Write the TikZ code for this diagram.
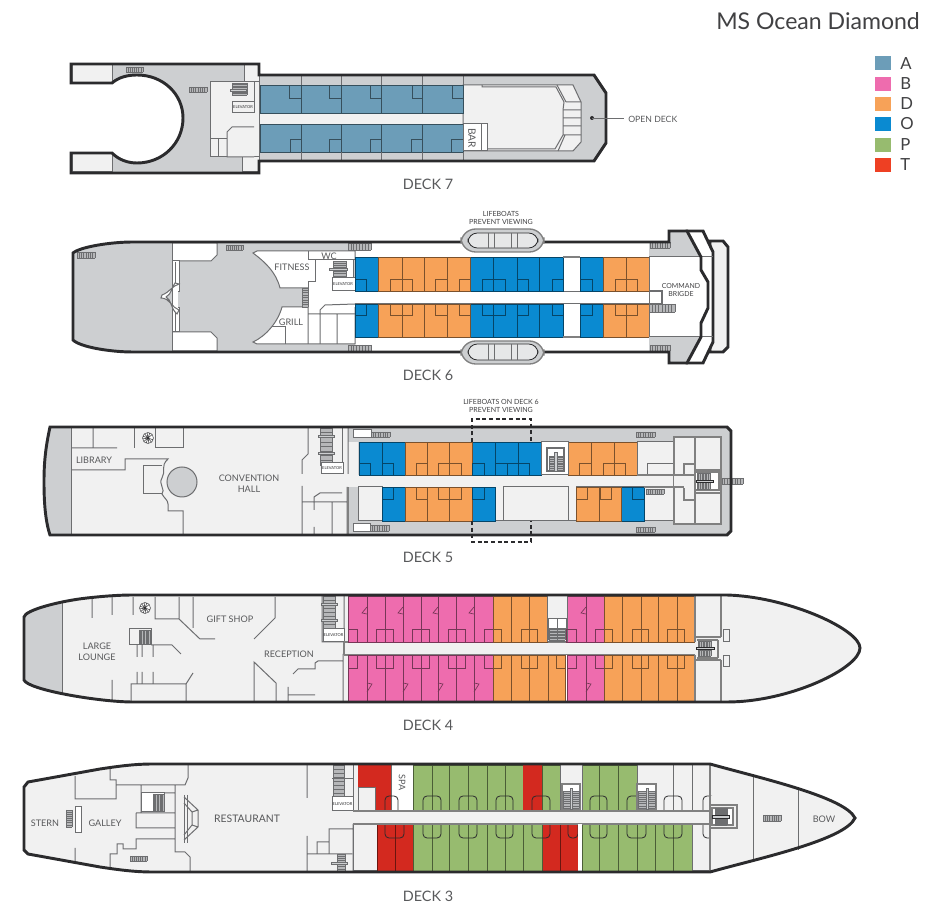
\documentclass[tikz,border=0pt]{standalone}
\usepackage{fontspec}
\setmainfont{Lato}
\definecolor{catA}{HTML}{6C9DB8}
\definecolor{catB}{HTML}{EE6CAE}
\definecolor{catD}{HTML}{F7A258}
\definecolor{catO}{HTML}{0A8AD1}
\definecolor{catP}{HTML}{97BB6F}
\definecolor{catT}{HTML}{D3291F}
\definecolor{legT}{HTML}{EE4023}
\definecolor{deckgray}{HTML}{CDCFD1}
\definecolor{roomlight}{HTML}{F1F1F1}
\definecolor{wall}{HTML}{6D6E70}
\definecolor{inktext}{HTML}{58595B}
\definecolor{darktext}{HTML}{414143}
\definecolor{hullblack}{HTML}{2B2B2D}
\tikzset{
  hull/.style={draw=hullblack,line width=2.2pt,line join=miter},
  wallline/.style={draw=wall,line width=.75pt},
  graywall/.style={draw=gray,line width=.9pt},
  lab/.style={text=inktext,font=\fontsize{6.8pt}{8pt}\selectfont,align=center,inner sep=0pt},
  decklab/.style={text=inktext,font=\fontsize{10.8pt}{12pt}\selectfont,inner sep=0pt},
  tinylab/.style={text=hullblack,font=\fontsize{3pt}{3.5pt}\selectfont,inner sep=0pt},
  smalllab/.style={text=darktext,font=\fontsize{5.3pt}{6pt}\selectfont,align=center,inner sep=0pt},
  leglab/.style={text=darktext,font=\fontsize{12.5pt}{14pt}\selectfont,anchor=west,inner sep=0pt},
}
\newcommand\cabs[4]{\foreach \a/\b in {#4} \filldraw[fill=#1,draw=#1!50!black,line width=.7pt] (\a,#2) rectangle (\b,#3);}
\newcommand\baths[4]{\foreach \a/\b in {#4} \draw[draw=#1!50!black,line width=.7pt] (\a,#2) rectangle (\b,#3);}
\newcommand\rbaths[5]{\foreach \a/\b in {#5} \draw[draw=hullblack,line width=.6pt,rounded corners=#1] (\a,#3) rectangle (\b,#4);}
\newcommand\hst[4]{\fill[deckgray!70!gray] (#1,#2) rectangle (#3,#4);
  \foreach \t in {0,0.125,...,1.01} \draw[draw=wall,line width=.5pt] ({#1+\t*(#3-#1)},#2) -- ({#1+\t*(#3-#1)},#4);
  \draw[draw=wall,line width=.5pt] (#1,#2) -- (#3,#2) (#1,#4) -- (#3,#4);}
\newcommand\vst[4]{\fill[deckgray!70!gray] (#1,#2) rectangle (#3,#4);
  \foreach \t in {0,0.125,...,1.01} \draw[draw=wall,line width=.5pt] (#1,{#2+\t*(#4-#2)}) -- (#3,{#2+\t*(#4-#2)});
  \draw[draw=wall,line width=.5pt] (#1,#2) -- (#1,#4) (#3,#2) -- (#3,#4);}
\newcommand\stbar[3]{\filldraw[fill=deckgray,draw=wall,line width=.5pt] (#1,#3) rectangle (#2,#3+2);}
\newcommand\fan[2]{\filldraw[fill=white,draw=wall,line width=.5pt] (#1,#2) circle (5.5);
  \foreach \t in {20,50,...,340} \draw[draw=hullblack,line width=.4pt] (#1,#2) -- ++(\t:5.5);}
\begin{document}
\begin{tikzpicture}[x=0.75pt,y=-0.75pt]
\useasboundingbox (0,0) rectangle (940,912);
% ===== TITLE + LEGEND =====
\node[anchor=west,text=darktext,font=\fontsize{17.3pt}{20pt}\selectfont,inner sep=0pt] (title) at (716,21) {MS Ocean Diamond};
\foreach \n/\c/\t/\y in {a/catA/A/63.5,b/catB/B/84,d/catD/D/104,o/catO/O/124,p/catP/P/145,t/legT/T/165}{
  \fill[\c] (875,\y-7) rectangle (891,\y+7);
  \node[leglab] (leg\n) at (900,\y) {\t};
}
% ===== DECK 7 =====
\path[fill=deckgray] (71,64)--(259,64)--(259,75)--(594,75)--(606,93)--(606,143)--(594,161)--(259,161)--(259,173)--(71,173)--(71,153)--(112,153)
  .. controls (119,160) and (128,163) .. (137,163) .. controls (163,163) and (183,143) .. (183,118) .. controls (183,94) and (163,75) .. (137,75) .. controls (128,75) and (119,77) .. (112,83) -- (71,83) -- cycle;
\filldraw[fill=roomlight,wallline] (72,65) rectangle (112,83);
\filldraw[fill=roomlight,wallline] (72,154) rectangle (112,172);
\filldraw[fill=roomlight,wallline] (244,65) rectangle (259,82);
\filldraw[fill=roomlight,wallline] (242,157) rectangle (259,172);
\filldraw[fill=roomlight,wallline] (210,82) rectangle (259,157);
\fill[roomlight] (259,113) rectangle (463,124);
\draw[wallline] (259,75) -- (259,161);
\filldraw[fill=roomlight,wallline] (463,85)--(482,85)--(573,85)--(581,102)--(581,142)--(573,151)--(463,151)--cycle;
\draw[wallline] (482,85)--(482,87)--(556,87)--(564,102)--(563,110)--(563,135)--(555,149)--(487,149);
\draw[wallline] (566,102)--(581,102) (563,110)--(581,110) (563,118)--(581,118) (563,126)--(581,126) (563,135)--(581,135) (557,85)--(566,102) (565,135)--(558,151);
\cabs{catA}{85}{113}{260/301,301/341,341/381,381/422,422/463}
\cabs{catA}{124}{152}{260/301,301/341,341/381,381/422,422/463}
\baths{catA}{85}{98}{289/301,329/341,370/381,412/422,452/463}
\baths{catA}{139}{152}{290/301,329/341,370/381,411/422,451/463}
\foreach \x in {301,341,381,422,463} \draw[wallline] (\x,75)--(\x,85) (\x,152)--(\x,161);
\filldraw[fill=white,wallline] (463,124) rectangle (487,151);
\draw[wallline] (481,124)--(481,151);
\node[lab,rotate=-90,font=\fontsize{7.6pt}{8pt}\selectfont] (bar7) at (472,138) {BAR};
\draw[wallline] (232,102)--(232,113)--(254,113) (254,82)--(254,113) (232,102)--(254,102);
\vst{232}{83}{247}{95}\stbar{230}{246}{89}
\node[tinylab] (elev7) at (243,107.5) {ELEVATOR};
\filldraw[fill=roomlight,wallline] (254,127)--(232,127)--(227,132)--(227,157)--(254,157);
\draw[wallline] (210,139)--(227,139) (218,139)--(218,157);
\hst{126}{67}{143}{72}
\hst{189}{87}{207}{92}
\draw[hull] (71,64)--(259,64)--(259,75)--(594,75)--(606,93)--(606,143)--(594,161)--(259,161)--(259,173)--(71,173)--(71,153)--(112,153)
  .. controls (119,160) and (128,163) .. (137,163) .. controls (163,163) and (183,143) .. (183,118) .. controls (183,94) and (163,75) .. (137,75) .. controls (128,75) and (119,77) .. (112,83) -- (71,83) -- cycle;
\coordinate (od7) at (592,118);
\node[lab,anchor=west,font=\fontsize{6.5pt}{7pt}\selectfont] (opendeck) at (628,119.5) {OPEN DECK};
\coordinate (od7end) at (624,118);
\fill[hullblack] (od7) circle (2);
\draw[draw=wall,line width=.7pt] (od7) -- (od7end);
\node[decklab] (deck7) at (428,184) {DECK 7};
% ===== DECK 6 =====
\filldraw[fill=roomlight,hull] (710,241)--(723,241)--(728,247)--(728,347)--(723,352)--(710,352)--cycle;
\filldraw[fill=white,hull] (687,231)--(703,231)--(713,252)--(713,320)--(713,342)--(703,363)--(687,363)--cycle;
\path[fill=deckgray] (73,253) .. controls (80,247) and (110,242) .. (133,242) -- (669,242)--(669,231)--(687,231)--(701,257)--(701,270)--(708,282)--(708,308)--(701,323)--(701,337)--(687,363)--(669,363)--(669,352)--(133,352) .. controls (110,352) and (80,347) .. (73,340) -- cycle;
\fill[white] (649,257) rectangle (701,337);
\fill[white] (701,270)--(708,282)--(708,308)--(701,323)--cycle;
\fill[white] (355,243) rectangle (649,257);
\fill[white] (355,337) rectangle (649,351);
% interior white rooms
\filldraw[fill=white,wallline] (172,243)--(217,243)--(217,255)--(211,261)--(172,261);
\filldraw[fill=white,wallline] (172,351)--(217,351)--(217,338)--(211,332)--(172,332);
\draw[wallline] (172,243)--(172,351);
\filldraw[fill=white,wallline] (355,251)--(257,251)--(253,253) .. controls (265,262) and (276,272) .. (280,288) -- (302,288) -- (308,288) -- (308,307) -- (282,307) .. controls (278,322) and (266,336) .. (253,342)--(257,344)--(355,344)--cycle;
\fill[white] (302,288) rectangle (356,307);
\draw[wallline] (308,251)--(308,260)--(315,260)--(315,282)--(308,282)--(308,288);
\draw[wallline] (308,260)--(355,260);
\draw[wallline] (308,307)--(308,344) (308,314)--(355,314) (320,314)--(320,310)--(325,305)--(355,304) (320,314)--(320,344) (337,314)--(337,344);
\draw[wallline] (272,327)--(285,327)--(285,344);
\vst{333}{261}{346}{278}\stbar{329}{347}{268}
\draw[wallline] (353,260)--(353,278);
\filldraw[fill=white,wallline] (332,278) rectangle (355,291);
\node[tinylab] (elev6) at (343,284.5) {ELEVATOR};
\vst{302}{288}{308}{307}
\filldraw[fill=white,wallline] (172,261) rectangle (179,292);
\filldraw[fill=white,wallline] (172,308) rectangle (179,332);
\fill[white] (173,262) rectangle (178,331);
\draw[wallline] (175.5,262)--(175.5,283) (175.5,313)--(175.5,331);
\filldraw[fill=white,wallline] (179,284) .. controls (172,286) and (170,292) .. (162,295) -- (161,298) .. controls (170,298) and (172,308) .. (179,310) -- (177,314) .. controls (170,308) and (172,300) .. (166,297) .. controls (172,294) and (172,286) .. (175,283) -- cycle;
\fill[white] (355,291) rectangle (662,304);
\draw[draw=wall,line width=.9pt] (355,291)--(662,291)--(662,304)--(355,304);
% cabins
\foreach \ya/\yb in {257/291,304/337}{
  \cabs{catO}{\ya}{\yb}{355/378,470/493,493/517,517/539,539/563,580/603}
  \cabs{catD}{\ya}{\yb}{378/402,402/424,424/447,447/470,603/626,626/649}
  \fill[white] (563.5,\ya) rectangle (579.5,\yb);
}
\baths{catO}{279}{291}{355/366,482/493,493/505,517/528,552/563,580/592}
\baths{catD}{279}{291}{390/402,402/412,435/447,459/470,615/626,626/637}
\baths{catO}{304}{315}{355/366,482/493,493/505,517/528,552/563,580/592}
\baths{catD}{304}{315}{390/402,402/412,435/447,459/470,615/626,626/637}
\draw[draw=gray,line width=.8pt] (563,257)--(580,257) (563,337)--(580,337);
% right end
\fill[deckgray] (649,257)--(649,248)--(669,248)--(669,232)--(686,232)--(701,257)--cycle;
\fill[deckgray] (649,337)--(649,345)--(669,345)--(669,362)--(686,362)--(701,337)--cycle;
\draw[wallline] (649,257)--(701,257) (649,337)--(701,337) (649,257)--(649,337);
\draw[wallline] (702,257)--(713,257) (702,337)--(713,337);
\hst{650}{242.5}{670}{248}
\hst{650}{345}{670}{351}
\hst{649}{304}{675}{312}
% main stairs
\hst{77}{252}{95}{258}
\hst{226}{245}{243}{250}
\hst{348}{243}{371}{250}
\hst{348}{345}{371}{351}
\draw[hull] (73,253) .. controls (80,247) and (110,242) .. (133,242) -- (669,242)--(669,231)--(687,231)--(701,257)--(701,270)--(708,282)--(708,308)--(701,323)--(701,337)--(687,363)--(669,363)--(669,352)--(133,352) .. controls (110,352) and (80,347) .. (73,340) -- cycle;
\foreach \ya/\yb/\yc/\yd in {229/252/233/248,341/364/344/360}{
  \filldraw[fill=deckgray,draw=gray,line width=1pt,rounded corners=11] (461,\ya) rectangle (544,\yb);
  \filldraw[fill=deckgray!50!white,draw=hullblack,line width=.6pt,rounded corners=7] (468,\yc) rectangle (538,\yd);
  \foreach \x in {488,494,511,517} \draw[wallline] (\x,\yc)--(\x,\yd);
}
\node[smalllab] (lb6) at (501,218) {LIFEBOATS\\PREVENT VIEWING};
\node[lab] (fit) at (292,267) {FITNESS};
\node[lab] (wc) at (329,256) {WC};
\node[lab] (grill) at (291,322) {GRILL};
\node[smalllab,font=\fontsize{5.2pt}{6.6pt}\selectfont] (cmd) at (681,290) {COMMAND\\BRIGDE};
\node[decklab] (deck6) at (428,375) {DECK 6};
% ===== DECK 5 =====
\path[fill=roomlight] (50,427) -- (727,427) -- (731,431) -- (731,531) -- (727,535) -- (50,535) .. controls (45,520) and (44,500) .. (44,482) .. controls (44,465) and (45,450) .. (50,427) -- cycle;
\path[fill=deckgray] (50,427) -- (71,427) -- (71,535) -- (50,535) .. controls (45,520) and (44,500) .. (44,482) .. controls (44,465) and (45,450) .. (50,427) -- cycle;
\fill[deckgray] (348,427) -- (727,427) -- (731,431) -- (731,531) -- (727,535) -- (348,535) -- cycle;
\fill[white] (674,437) rectangle (721,524);
\fill[roomlight] (348,475) rectangle (697,487);
\fill[roomlight] (348,442) rectangle (358,475);
\draw[wallline] (71,427)--(71,535);
\draw[wallline] (71,448)--(117,448) (93,427)--(93,448) (71,470)--(125,470)--(125,459)--(168,459)
  .. controls (160,466) and (166,472) .. (162,478) .. controls (158,484) and (166,490) .. (162,494) .. controls (164,498) and (168,500) .. (168,504) -- (168,511)--(183,511)--(183,534);
\draw[wallline] (162,466)--(143,466)--(143,494)--(162,494);
\filldraw[fill=deckgray,wallline] (182,482) circle (15);
\draw[wallline] (134,427)--(134,448);
\filldraw[fill=roomlight,wallline] (155,428)--(155,448)--(183,448)--(183,428);
\draw[wallline] (308,427)--(308,454)--(302,460)--(302,474) (302,486)--(302,534) (302,502)--(347,502) (332,502)--(332,534)
 (314,510)--(314,497)--(320,493)--(342,493) (314,527)--(314,534) (347,487)--(347,534) (348,427)--(348,474);
\vst{320}{428}{332}{465}\stbar{318}{334}{435}\stbar{318}{334}{452}
\draw[wallline] (342,428)--(342,465);
\filldraw[fill=white,wallline] (321,463) rectangle (343,474);
\node[tinylab] (elev5) at (332,468.5) {ELEVATOR};
% cabins
\cabs{catO}{442}{475}{359/382,382/405,472/495,495/518,518/541}
\cabs{catD}{442}{475}{405/427,427/449,449/472,568/591,591/614,614/637}
\filldraw[fill=white,wallline] (541,442) rectangle (568,475);
\filldraw[fill=roomlight,wallline] (637,442) rectangle (674,475);
\draw[wallline] (647,475)--(647,464)--(674,464);
\filldraw[fill=roomlight,wallline] (358,487) rectangle (382,521);
\fill[roomlight] (495,487) rectangle (576,521);
\draw[wallline] (495,521)--(576,521);
\filldraw[fill=roomlight,wallline] (503,487) rectangle (568,521);
\filldraw[fill=roomlight,wallline] (576,487) -- (674,487) -- (674,521) -- (576,521) -- cycle;
\cabs{catO}{487}{521}{382/405,472/495,621/644}
\cabs{catD}{487}{521}{405/427,427/449,449/472,576/599,599/621}
\baths{catO}{463}{475}{359/370,382/393,472/484,495/507,507/518,518/529}
\baths{catD}{463}{475}{416/427,438/449,449/461,579/591,603/614,614/625}
\baths{catO}{487}{499}{382/393,472/484,632/644}
\baths{catD}{487}{499}{416/427,438/449,449/461,576/587,600/611}
\filldraw[fill=white,draw=wall,line width=.9pt] (547,448) rectangle (564,471);
\vst{549}{456}{555}{470}\vst{557}{456}{563}{470}
\filldraw[fill=deckgray,wallline] (554,453) rectangle (557,472);
\hst{646}{489}{664}{494}
% right block
\filldraw[fill=roomlight,draw=gray,line width=.9pt] (674,437) rectangle (721,524);
\draw[draw=gray,line width=.9pt] (695,437)--(695,524);
\filldraw[fill=roomlight,draw=gray,line width=.9pt] (695,437) rectangle (721,470);
\filldraw[fill=roomlight,draw=gray,line width=.9pt] (695,493) rectangle (721,524);
\fill[roomlight] (674,475) rectangle (697,487);
\draw[draw=gray,line width=.9pt] (637,475)--(697,475) (644,487)--(684,487);
\draw[draw=gray,line width=.9pt] (684,475)--(684,464)--(695,464) (684,488) -- (684,500) -- (695,500);
\filldraw[fill=white,draw=gray,line width=.9pt] (695,472) rectangle (719,490);
\hst{697}{473}{710}{480}\hst{697}{482}{710}{489}
\filldraw[fill=deckgray,draw=hullblack,line width=.4pt] (696,480) rectangle (713,482);
\hst{722}{478}{743}{484}
\filldraw[fill=white,wallline] (353,430) rectangle (371,438);
\hst{371}{432}{390}{437}
\filldraw[fill=white,wallline] (353,524) rectangle (370,532);
\hst{370}{525}{389}{531}
\hst{636}{432}{655}{437}
\hst{636}{527}{655}{532}
\draw[draw=gray,line width=.9pt] (348,487)--(348,535);
\draw[hull] (50,427) -- (727,427) -- (731,431) -- (731,531) -- (727,535) -- (50,535) .. controls (45,520) and (44,500) .. (44,482) .. controls (44,465) and (45,450) .. (50,427) -- cycle;
\draw[draw=hullblack,line width=.9pt,densely dashed] (472,442)--(472,419)--(531,419)--(531,442);
\draw[draw=hullblack,line width=.9pt,densely dashed] (472,521)--(472,542)--(531,542)--(531,521);
\fan{148}{438}
\node[smalllab] (lb5) at (501,406) {LIFEBOATS ON DECK 6\\PREVENT VIEWING};
\node[lab] (lib) at (94,460) {LIBRARY};
\node[lab] (conv) at (249,484) {CONVENTION\\HALL};
\node[decklab] (deck5) at (428,557) {DECK 5};
% ===== DECK 4 =====
\path[fill=roomlight] (24,617) .. controls (25,610) and (60,601) .. (87,598) .. controls (105,596) and (120,595) .. (133,595) -- (727,595) .. controls (790,597) and (860,630) .. (860,648) .. controls (860,668) and (790,702) .. (727,702) -- (133,702) .. controls (100,702) and (28,690) .. (24,680) -- cycle;
\fill[deckgray] (24,617) .. controls (25,611) and (45,605) .. (62,602) -- (62,695) .. controls (45,691) and (26,685) .. (24,680) -- cycle;
\draw[wallline] (62,602)--(62,695);
\draw[wallline] (92,597)--(92,618) (112,597)--(112,615) (133,597)--(133,615) (112,680)--(112,702)
 (155,597)--(155,619)--(179,619)--(179,597) (193,597)--(193,628) (179,619)--(200,639)--(215,639) (275,597)--(275,618)--(254,639)
 (151,645)--(172,645)--(181,654) (137,645)--(137,657) (142,645)--(142,657) (153,645)--(153,657) (137,672)--(137,684) (142,672)--(142,684) (153,672)--(153,684)
 (131,702)--(131,684)--(186,684)--(186,702) (186,684)--(193,673)
 (254,702)--(254,662)--(276,683)--(276,702) (288,687)--(288,702) (288,695)--(315,695)
 (293,674)--(298,669)--(315,669)--(315,663)--(318,661)--(343,661) (343,654)--(343,702) (322,596)--(322,642)--(344,642)--(344,596);
\draw[wallline] (129,629)--(151,629)--(151,645)--(129,645)--cycle;
\vst{323}{596}{335}{628}\stbar{321}{337}{603}\stbar{321}{337}{619}
\hst{139}{630}{150}{644}
\filldraw[fill=white,wallline] (323,629) rectangle (344,642);
\node[tinylab] (elev4) at (333.5,635.5) {ELEVATOR};
\fan{145}{608}
\fill[roomlight] (344,642) rectangle (695,655);
\draw[draw=gray,line width=.8pt] (344,642)--(695,642) (344,655)--(695,655) (344,642)--(344,655);
\cabs{catB}{596}{642}{348/367,367/385,385/403,403/421,421/438,438/456,456/474,474/493,567/586,586/604}
\cabs{catD}{596}{642}{493/511,511/529,529/547,604/622,622/641,641/658,658/677,677/695}
\cabs{catB}{655}{701}{348/367,367/385,385/403,403/421,421/438,438/456,456/474,474/493,567/586,586/604}
\cabs{catD}{655}{701}{493/511,511/529,529/548,548/565,604/622,622/641,641/658,658/677,677/695}
\fill[white] (565.5,655) rectangle (566.5,701);
\filldraw[fill=roomlight,wallline] (547,596) rectangle (567,642);
\filldraw[fill=white,wallline] (548,619) rectangle (566,640);
\vst{549}{628}{565}{640}
\draw[wallline] (557,619)--(557,640);
\baths{catB}{629}{642}{348/357,376/385,385/393,412/421,421/429,448/456,456/465,484/493,566/576,595/604}
\baths{catD}{629}{642}{493/501,521/529,529/537,604/612,632/641,641/648,667/677,677/684}
\baths{catB}{655}{668}{348/357,376/385,385/393,412/421,421/429,448/456,456/465,484/493,567/576,595/604}
\baths{catD}{655}{668}{493/501,521/529,529/537,556/565,604/612,632/641,641/648,667/677,677/684}
\foreach \x in {367,403,438,474,586}{
  \draw[draw=catB!50!black,line width=.5pt] (\x,607)--(\x-5,613)--(\x,614);
  \draw[draw=catB!50!black,line width=.5pt] (\x,683)--(\x+5,684)--(\x,692);
}
% bow side
\fill[roomlight] (695,596) rectangle (721,701);
\draw[draw=gray,line width=.9pt] (695,596)--(695,642) (695,655)--(695,701) (721,596)--(721,637) (721,660)--(721,701);
\draw[draw=gray,line width=.9pt] (695,637)--(721,637) (695,660)--(721,660) (718,640)--(718,658) (697,640)--(718,640) (697,658)--(718,658);
\hst{698}{641}{711}{647}\hst{698}{650}{711}{656}
\filldraw[fill=deckgray,draw=hullblack,line width=.4pt] (696,647.5) rectangle (714,649.5);
\filldraw[fill=roomlight,wallline] (723,630) rectangle (729,642);
\filldraw[fill=roomlight,wallline] (723,656) rectangle (729,667);
\draw[hull] (24,617) .. controls (25,610) and (60,601) .. (87,598) .. controls (105,596) and (120,595) .. (133,595) -- (727,595) .. controls (790,597) and (860,630) .. (860,648) .. controls (860,668) and (790,702) .. (727,702) -- (133,702) .. controls (100,702) and (28,690) .. (24,680) -- cycle;
\node[lab] (lounge) at (97,652) {LARGE\\LOUNGE};
\node[lab] (gift) at (230,619) {GIFT SHOP};
\node[lab] (recep) at (289,654.5) {RECEPTION};
\node[decklab] (deck4) at (428,725) {DECK 4};
% ===== DECK 3 =====
\path[fill=roomlight] (24,787) -- (28,782) -- (100,769) .. controls (120,766) and (135,764) .. (153,764) -- (710,764) .. controls (760,778) and (845,797) .. (855,818) .. controls (845,840) and (760,858) .. (710,872) -- (153,872) .. controls (135,872) and (120,870) .. (100,867) -- (28,854) -- (24,850) -- cycle;
\draw[wallline] (75,776)--(75,799)--(116,799)--(116,785) (110,768)--(110,780)--(116,780)--(116,785)--(185,785)--(188,778)--(188,765)
 (141,785)--(141,813) (175,785)--(175,852)--(185,852)--(190,857)--(190,871)
 (136,813)--(175,813) (136,813)--(136,828)--(175,828) (141,793)--(175,793)
 (110,868)--(110,854)--(117,854)--(117,844)--(123,844)--(123,849)--(136,849)--(136,839)--(175,839)
 (75,848)--(75,862)
 (307,765)--(307,798) (307,836)--(307,872) (307,854)--(352,854) (317,854)--(317,842)--(329,842)--(329,854) (329,842)--(329,829)--(353,829) (353,824)--(353,871);
\filldraw[fill=white,wallline] (141,793) rectangle (164,812);
\hst{153}{794}{164}{811}
\hst{130}{856}{147}{861}
\vst{66}{810}{72}{827}
\filldraw[fill=white,wallline] (75,807) rectangle (81,833);
% chevrons
\draw[wallline] (184,795)--(184,843) (187,795)--(187,843);
\draw[wallline] (184,797)--(198,810)--(198,827)--(184,840) (184,803)--(192,812)--(192,825)--(184,835) (192,812)--(198,810) (192,825)--(198,827);
\vst{333}{765}{344}{797}
\draw[wallline] (332,779)--(353,779) (353,765)--(353,811);
\filldraw[fill=white,wallline] (332,797) rectangle (353,811);
\node[tinylab] (elev3) at (342.5,804) {ELEVATOR};
\vst{337}{854}{345}{871}\stbar{331}{347}{862}
% cabins
\fill[catT] (358,765)--(391,765)--(391,811)--(375,811)--(375,788)--(358,788)--cycle;
\filldraw[fill=roomlight,wallline] (358,788) rectangle (375,811);
\filldraw[fill=white,wallline] (391,765) rectangle (413,811);
\cabs{catP}{765}{811}{413/432,432/449,449/468,468/487,487/505,505/523,542/560,582/599,599/618,618/637}
\fill[catT] (523,765) rectangle (542,811);
\filldraw[fill=roomlight,wallline] (560,765) rectangle (582,811);
\filldraw[fill=roomlight,wallline] (637,765) rectangle (673,811);
\filldraw[fill=roomlight,wallline] (673,765) rectangle (692,811);
\filldraw[fill=roomlight,wallline] (692,765) rectangle (710,811);
\filldraw[fill=roomlight,wallline] (353,824) rectangle (377,871);
\cabs{catT}{824}{871}{377/395,395/413,542/560,560/578}
\cabs{catP}{824}{871}{413/432,432/449,449/468,468/487,487/505,505/523,523/542,582/599,599/618,618/637,637/655,655/673,673/692}
\filldraw[fill=roomlight,wallline] (692,824) rectangle (710,871);
\rbaths{3}{}{796}{815}{423/441,459/477,496/513,532/550,590/607,627/646,664/682,703/715,385/398}
\rbaths{3}{}{820}{838}{385/404,423/441,459/477,496/513,532/550,568/578,590/607,627/646,664/682,703/715}
\fill[roomlight] (353,811) rectangle (716,824);
\fill[roomlight] (710,796) rectangle (716,840);
\draw[draw=gray,line width=.8pt] (353,811)--(710,811) (353,824)--(710,824);
\fill[white] (578,824) rectangle (582,871);
\filldraw[fill=white,draw=gray,line width=.9pt] (562,784) rectangle (580,809);
\vst{563}{791}{570}{808}\vst{572}{791}{579}{808}
\filldraw[fill=deckgray,wallline] (570,789) rectangle (572,810);
\filldraw[fill=white,draw=gray,line width=.9pt] (637,784) rectangle (656,809);
\vst{638}{791}{646}{808}\vst{648}{791}{655}{808}
\filldraw[fill=deckgray,wallline] (646,789) rectangle (648,810);
% bow
\draw[draw=gray,line width=.9pt] (710,764)--(710,805) (710,828)--(710,872);
\filldraw[fill=roomlight,draw=gray,line width=.9pt] (710,805) rectangle (737,828);
\filldraw[fill=white,draw=gray,line width=.9pt] (712,808) rectangle (733,825);
\vst{715}{808}{727}{815}\vst{715}{818}{727}{825}
\filldraw[fill=deckgray,draw=hullblack,line width=.4pt] (712,815) rectangle (729,818);
\draw[wallline] (753,776)--(753,860) (798,787)--(798,850);
\hst{763}{815}{781}{821}
\draw[hull] (24,787) -- (28,782) -- (100,769) .. controls (120,766) and (135,764) .. (153,764) -- (710,764) .. controls (760,778) and (845,797) .. (855,818) .. controls (845,840) and (760,858) .. (710,872) -- (153,872) .. controls (135,872) and (120,870) .. (100,867) -- (28,854) -- (24,850) -- cycle;
\node[lab,rotate=-90] (spa) at (402,783) {SPA};
\node[lab] (stern) at (45,823) {STERN};
\node[lab] (galley) at (105,823) {GALLEY};
\node[lab,font=\fontsize{7.8pt}{9pt}\selectfont] (rest) at (247,819) {RESTAURANT};
\node[lab] (bow) at (824,819) {BOW};
\node[decklab] (deck3) at (428,896) {DECK 3};
\end{tikzpicture}
\end{document}
